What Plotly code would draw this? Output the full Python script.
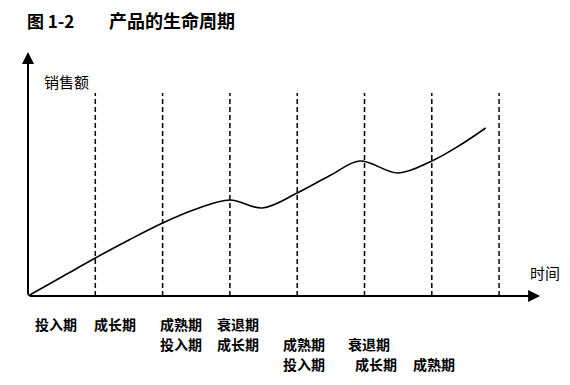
import plotly.graph_objects as go

# Sales curve (x in life-cycle periods, y in sales units)
curve_x = [0, 0.5, 1.0, 1.5, 2.0, 2.5, 3.0, 3.48, 4.0, 4.5, 4.93, 5.5, 6.0, 6.4, 6.8]
curve_y = [0, 19, 38, 56, 73, 87, 96, 88, 103, 121, 135, 123, 135, 150, 168]

# Phase boundaries (dashed verticals)
boundaries = [1, 2, 3, 4, 5, 6, 7]
boundary_top = 203

# Stage labels: rows for three overlapping product cycles
row1_labels = ["投入期", "成长期", "成熟期", "衰退期"]
row1_x = [0.42, 1.29, 2.27, 3.12]
row2_labels = ["投入期", "成长期", "成熟期", "衰退期"]
row2_x = [2.27, 3.12, 4.10, 5.07]
row3_labels = ["投入期", "成长期", "成熟期"]
row3_x = [4.10, 5.17, 6.03]
row_y = [-28, -48, -68]

title_num = "图 1-2"
title_text = "产品的生命周期"
y_label = "销售额"
x_label = "时间"

FONT = "Noto Sans CJK SC"
X_MAX = 517 / 67.3
Y_MAX = 248.0

fig = go.Figure()
fig.add_trace(go.Scatter(
    x=curve_x, y=curve_y, mode="lines",
    line=dict(color="black", width=1.6, shape="spline", smoothing=1.0),
    hoverinfo="skip", showlegend=False,
))

for b in boundaries:
    fig.add_shape(type="line", xref="x", yref="y", x0=b, x1=b, y0=0, y1=boundary_top,
                  line=dict(color="black", width=1.5, dash="5px,3px"))

# Axes with arrows
fig.add_annotation(x=7.61, y=0, ax=0, ay=0, xref="x", yref="y", axref="x", ayref="y",
                   showarrow=True, arrowhead=2, arrowsize=1.2, arrowwidth=2, arrowcolor="black", text="")
fig.add_annotation(x=0, y=244, ax=0, ay=0, xref="x", yref="y", axref="x", ayref="y",
                   showarrow=True, arrowhead=2, arrowsize=1.2, arrowwidth=2, arrowcolor="black", text="")

for labels, xs, yy in [(row1_labels, row1_x, row_y[0]), (row2_labels, row2_x, row_y[1]), (row3_labels, row3_x, row_y[2])]:
    for t, xv in zip(labels, xs):
        fig.add_annotation(x=xv, y=yy / Y_MAX, xref="x", yref="paper", text=t, showarrow=False,
                           xanchor="center", yanchor="middle", borderpad=0,
                           font=dict(family=FONT, size=14, color="black", weight="bold"))

fig.add_annotation(x=0.21, y=215, xref="x", yref="y", text=y_label, showarrow=False,
                   xanchor="left", yanchor="middle", font=dict(family=FONT, size=15, color="black"))
fig.add_annotation(x=7.43, y=24, xref="x", yref="y", text=x_label, showarrow=False,
                   xanchor="left", yanchor="middle", font=dict(family=FONT, size=15, color="black"))

fig.add_annotation(x=-3 / 517, y=(296 - 20) / Y_MAX, xref="paper", yref="paper", text=title_num,
                   showarrow=False, xanchor="left", yanchor="middle",
                   font=dict(family=FONT, size=17, color="black", weight="bold"))
fig.add_annotation(x=79 / 517, y=(296 - 20) / Y_MAX, xref="paper", yref="paper", text=title_text,
                   showarrow=False, xanchor="left", yanchor="middle",
                   font=dict(family=FONT, size=18, color="black", weight="bold"))

# page body has an 8px margin, so figure is 8px smaller and offset
fig.update_layout(
    width=562, height=377,
    margin=dict(l=20, r=25, t=40, b=89),
    paper_bgcolor="white", plot_bgcolor="white",
    xaxis=dict(range=[0, X_MAX], visible=False, fixedrange=True),
    yaxis=dict(range=[0, Y_MAX], visible=False, fixedrange=True),
)

fig.write_html("out.html")
